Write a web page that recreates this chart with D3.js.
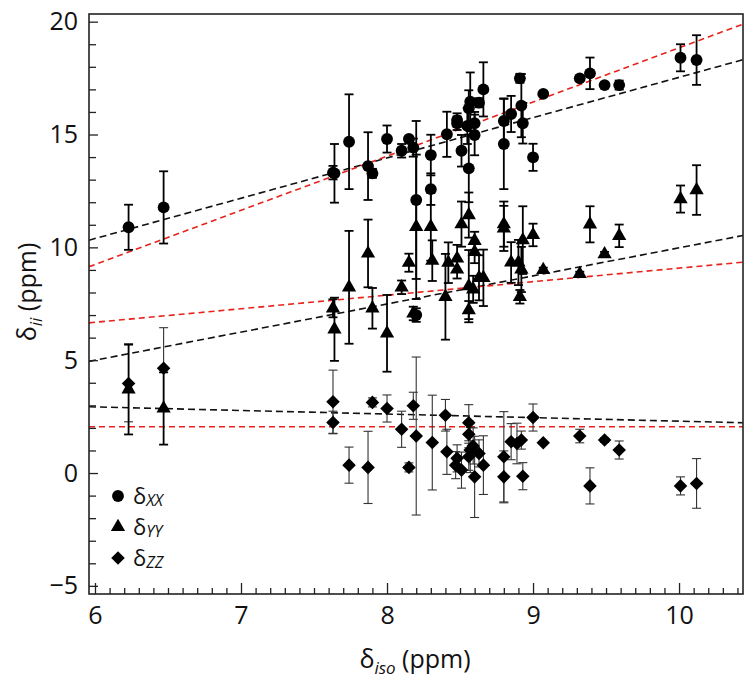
<!DOCTYPE html>
<html><head><meta charset="utf-8">
<script src="https://cdn.jsdelivr.net/npm/d3@7"></script>
<style>
body{margin:0;background:#fff;}
svg{display:block;font-family:"Open Sans","Noto Sans",sans-serif;}
</style></head>
<body><svg id="c" width="754" height="687"></svg>
<script>
// δXX series: isotropic shift, principal value, error
const xxIso = [6.23,6.47,7.63,7.64,7.74,7.87,7.90,8.00,8.10,8.15,8.18,8.20,8.20,8.30,8.30,8.41,8.48,8.48,8.51,8.55,8.56,8.57,8.56,8.60,8.60,8.63,8.66,8.80,8.80,8.85,8.91,8.92,8.93,9.00,9.07,9.32,9.39,9.49,9.59,10.01,10.12];
const xxVal = [10.89,11.77,13.31,13.28,14.68,13.60,13.28,14.80,14.28,14.80,14.42,12.10,7.00,14.09,12.58,15.01,15.64,15.50,14.28,15.38,16.16,16.45,13.50,15.50,14.98,16.41,17.00,15.60,14.58,15.91,17.49,16.28,15.50,13.99,16.80,17.49,17.71,17.19,17.19,18.40,18.30];
const xxErr = [1.0,1.6,0.3,1.3,2.1,1.5,0.2,0.6,0.3,0.1,0.4,3.5,0.3,0.9,0.7,1.0,0.3,0.3,0.7,0.8,0.8,1.3,1.5,0.5,0.9,0.2,1.2,1.0,2.0,0.8,0.2,1.4,0.9,0.6,0,0.1,0.7,0.1,0.2,0.6,1.1];
// δYY series
const yyIso = [6.23,6.47,7.63,7.64,7.74,7.87,7.90,8.00,8.10,8.15,8.18,8.20,8.30,8.31,8.40,8.42,8.48,8.48,8.51,8.56,8.60,8.60,8.56,8.59,8.56,8.63,8.66,8.80,8.80,8.85,8.90,8.93,8.92,8.91,9.00,9.07,9.32,9.39,9.49,9.59,10.01,10.12];
const yyVal = [3.71,2.86,7.30,6.37,8.23,9.73,7.30,6.19,8.23,9.32,7.07,10.91,10.91,9.41,7.81,9.32,9.51,9.02,11.03,11.43,10.29,9.80,8.28,8.14,7.22,8.65,8.65,11.03,10.84,9.33,9.33,10.32,9.02,7.81,10.55,9.00,8.82,11.02,9.70,10.51,12.14,12.54];
const yyErr = [2.0,1.6,0.4,1.4,2.5,1.5,0.9,1.7,0.3,0.4,0.3,3.2,1.5,0.9,1.9,0.9,0.6,0.4,1.0,1.0,0.4,0.5,1.6,0.6,0.4,1.0,1.25,1.0,1.0,0.9,1.0,1.5,1.0,0.3,0.5,0.1,0.1,0.8,0.1,0.5,0.6,1.1];
// δZZ series
const zzIso = [6.23,6.47,7.63,7.63,7.74,7.87,7.90,8.00,8.10,8.15,8.18,8.20,8.31,8.40,8.41,8.47,8.48,8.51,8.56,8.56,8.57,8.59,8.56,8.63,8.60,8.66,8.80,8.80,8.85,8.89,8.92,8.93,9.00,9.07,9.32,9.39,9.49,9.59,10.01,10.12];
const zzVal = [3.97,4.64,3.16,2.24,0.35,0.25,3.13,2.86,1.94,0.25,2.98,1.64,1.35,2.56,0.94,0.35,0.65,0.13,2.23,1.72,1.02,1.20,0.72,0.87,-0.17,0.35,0.72,-0.17,1.39,1.31,1.46,-0.14,2.46,1.34,1.64,-0.57,1.46,1.02,-0.57,-0.46];
const zzErr = [1.7,1.8,1.4,0.5,0.8,1.6,0.2,0.6,0.8,0.2,0.6,3.5,2.1,0.7,1.0,0.6,0.6,0.8,0.8,0.6,1.0,0.8,0.6,0.6,1.8,1.3,2.0,1.15,0.8,0.9,0.4,0.6,0.6,0,0.3,0.8,0.1,0.4,0.4,1.1];
// linear fits: [intercept at iso=6, slope]
const fitNames = ["xxBlack","xxRed","yyBlack","yyRed","zzBlack","zzRed"];
const fitIntercept = [10.39,9.24,5.00,6.68,2.93,2.05];
const fitSlope = [1.786,2.40,1.245,0.60,-0.158,0];
const fitColor = ["#111","#e8231c","#111","#e8231c","#111","#e8231c"];
const xTicks = [6,7,8,9,10];
const yTicks = [-5,0,5,10,15,20];

const svg = d3.select("#c");
const L=89,R=743,T=14,B=594;
const x = d3.scaleLinear().domain([5.959,10.438]).range([L,R]);
const y = d3.scaleLinear().domain([-5.36,20.34]).range([B,T]);

svg.append("clipPath").attr("id","clip").append("rect").attr("x",L).attr("y",T).attr("width",R-L).attr("height",B-T);

// fit lines
const gl = svg.append("g").attr("clip-path","url(#clip)");
fitNames.forEach((n,i)=>{
  const x0=5.959,x1=10.438;
  gl.append("line").attr("x1",x(x0)).attr("x2",x(x1))
    .attr("y1",y(fitIntercept[i]+fitSlope[i]*(x0-6)))
    .attr("y2",y(fitIntercept[i]+fitSlope[i]*(x1-6)))
    .attr("stroke",fitColor[i]).attr("stroke-width",1.6)
    .attr("stroke-dasharray", i%2? "6,4":"7,4");
});

// error bars + markers
function series(iso,val,err,shape,barColor,barW){
  const g = svg.append("g");
  iso.forEach((xi,i)=>{
    const e=err[i]; if(e<=0) return;
    const cx=x(xi), y0=y(val[i]-e), y1=y(val[i]+e);
    g.append("line").attr("x1",cx).attr("x2",cx).attr("y1",y0).attr("y2",y1).attr("stroke",barColor).attr("stroke-width",barW);
    [y0,y1].forEach(yy=>g.append("line").attr("x1",cx-4.5).attr("x2",cx+4.5).attr("y1",yy).attr("y2",yy).attr("stroke",barColor).attr("stroke-width",barW));
  });
  g.selectAll("path.m").data(iso).enter().append("path")
    .attr("d",d3.symbol().type(shape.t).size(shape.s))
    .attr("transform",(d,i)=>`translate(${x(d)},${y(val[i])})${shape.r||""}`)
    .attr("fill","#000");
}
const circ={t:d3.symbolCircle,s:110};
const tri={t:d3.symbolTriangle,s:88};
const dia={t:d3.symbolSquare,s:92,r:" rotate(45)"};
series(zzIso,zzVal,zzErr,dia,"#333",1.1);
series(yyIso,yyVal,yyErr,tri,"#000",1.8);
series(xxIso,xxVal,xxErr,circ,"#000",1.8);

// axes
const minorX = d3.range(60,105).map(v=>v/10).filter(v=>v%1!==0);
const minorY = d3.range(-5,21).filter(v=>v%5!==0);
svg.append("g").attr("transform",`translate(0,${B})`)
  .call(d3.axisBottom(x).tickValues(xTicks).tickSize(-11).tickPadding(12).tickFormat(d3.format("d")));
svg.append("g").attr("transform",`translate(0,${B})`)
  .call(d3.axisBottom(x).tickValues(minorX).tickSize(-6).tickFormat(""));
svg.append("g").attr("transform",`translate(${L},0)`)
  .call(d3.axisLeft(y).tickValues(yTicks).tickSize(-9).tickPadding(11).tickFormat(d3.format("d")));
svg.append("g").attr("transform",`translate(${L},0)`)
  .call(d3.axisLeft(y).tickValues(minorY).tickSize(-7).tickFormat(""));
svg.selectAll(".domain").remove();
svg.selectAll(".tick line").attr("stroke","#222").attr("stroke-width",1.3);
svg.selectAll(".tick text").attr("font-size",25).attr("fill","#111").attr("font-family","'Open Sans',sans-serif");
svg.append("rect").attr("x",L).attr("y",T).attr("width",R-L).attr("height",B-T)
  .attr("fill","none").attr("stroke","#222").attr("stroke-width",1.6);

// axis titles
const xt = svg.append("text").attr("x",415).attr("y",668).attr("text-anchor","middle").attr("font-size",25).attr("fill","#111");
xt.append("tspan").text("δ");
xt.append("tspan").text("iso").attr("font-size",17).attr("font-style","italic").attr("dy",6);
xt.append("tspan").text(" (ppm)").attr("dy",-6);
const yt = svg.append("text").attr("transform","translate(36,292) rotate(-90)").attr("text-anchor","middle").attr("font-size",25).attr("fill","#111");
yt.append("tspan").text("δ");
yt.append("tspan").text("ii").attr("font-size",17).attr("font-style","italic").attr("dy",6);
yt.append("tspan").text(" (ppm)").attr("dy",-6);

// legend
const legNames=["XX","YY","ZZ"], legShapes=[circ,tri,dia], legY=[496,527,558];
legNames.forEach((n,i)=>{
  svg.append("path").attr("d",d3.symbol().type(legShapes[i].t).size(legShapes[i].s)())
    .attr("transform",`translate(118,${legY[i]})${legShapes[i].r||""}`).attr("fill","#000");
  const t=svg.append("text").attr("x",133).attr("y",legY[i]+8).attr("font-size",22).attr("fill","#111");
  t.append("tspan").text("δ");
  t.append("tspan").text(n).attr("font-size",16).attr("font-style","italic").attr("dy",2);
});
</script></body></html>
